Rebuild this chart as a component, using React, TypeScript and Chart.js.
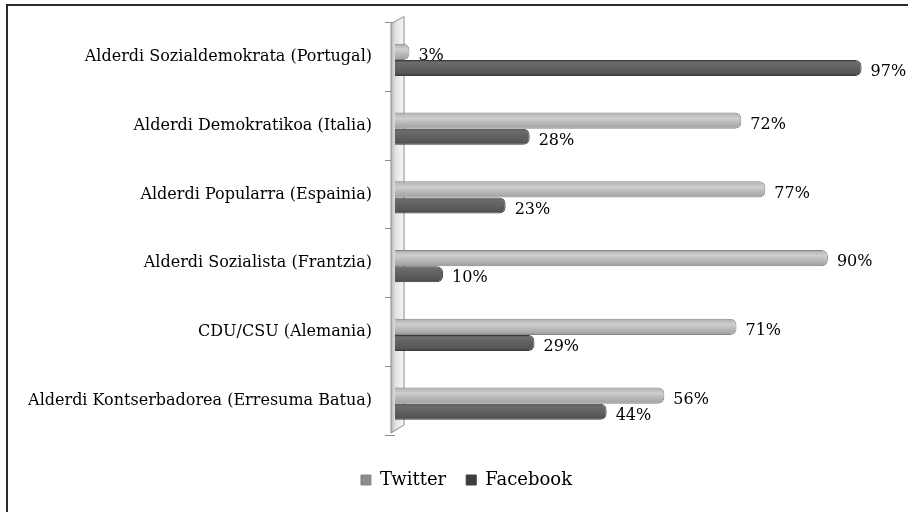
import React, { useEffect, useRef } from "react";
import { Chart, registerables } from "chart.js";

Chart.register(...registerables);

const categories = [
  "Alderdi Sozialdemokrata (Portugal)",
  "Alderdi Demokratikoa (Italia)",
  "Alderdi Popularra (Espainia)",
  "Alderdi Sozialista (Frantzia)",
  "CDU/CSU (Alemania)",
  "Alderdi Kontserbadorea (Erresuma Batua)",
];
const twitterValues = [3, 72, 77, 90, 71, 56];
const facebookValues = [97, 28, 23, 10, 29, 44];
const seriesNames = ["Twitter", "Facebook"];

const FONT = "'DejaVu Serif', serif";
const BAR_SHIFT = 3;

function barGradient(solid: string, stops: [number, string][]) {
  return (ctx: any) => {
    if (ctx.type !== "data") return solid;
    const chart = ctx.chart;
    const ys = chart.scales && chart.scales.y;
    if (!ys || ys.top === undefined || !chart.chartArea) return solid;
    const center = ys.getPixelForValue(ctx.dataIndex);
    const band = (ys.bottom - ys.top) / categories.length;
    const slot = (band * 0.47) / 2;
    const c = center + (ctx.datasetIndex === 0 ? -slot / 2 : slot / 2);
    const g = chart.ctx.createLinearGradient(0, c - slot / 2, 0, c + slot / 2);
    stops.forEach(([o, col]) => g.addColorStop(o, col));
    return g;
  };
}

const framePlugin = {
  id: "frame",
  afterLayout(chart: any) {
    if (chart.legend) {
      chart.legend.left += 57;
    }
  },
  afterDraw(chart: any) {
    const c = chart.ctx;
    c.save();
    c.strokeStyle = "#2b2b2b";
    c.lineWidth = 2;
    c.beginPath();
    c.moveTo(7, 512);
    c.lineTo(7, 5);
    c.lineTo(908, 5);
    c.stroke();
    c.restore();
  },
};

const wallPlugin = {
  id: "wall",
  beforeDatasetsDraw(chart: any) {
    const { ctx: c, chartArea } = chart;
    const xL = chartArea.left - 4;
    const xR = chartArea.left + 9;
    const top = chartArea.top;
    const bottom = chartArea.bottom;
    c.save();
    const g = c.createLinearGradient(xL, 0, xR, 0);
    g.addColorStop(0, "#b8b8b8");
    g.addColorStop(0.35, "#e2e2e2");
    g.addColorStop(1, "#f7f7f7");
    c.fillStyle = g;
    c.beginPath();
    c.moveTo(xL, top + 1);
    c.lineTo(xR, top - 6);
    c.lineTo(xR, bottom - 10);
    c.lineTo(xL, bottom - 2);
    c.closePath();
    c.fill();
    c.strokeStyle = "#8c8c8c";
    c.lineWidth = 1;
    c.stroke();
    c.restore();
    c.save();
    c.translate(0, BAR_SHIFT);
  },
  afterDatasetsDraw(chart: any) {
    chart.ctx.restore();
  },
};

const labelPlugin = {
  id: "valueLabels",
  afterDatasetsDraw(chart: any) {
    const c = chart.ctx;
    c.save();
    c.font = "16px " + FONT;
    c.fillStyle = "#000";
    c.textAlign = "left";
    c.textBaseline = "middle";
    chart.data.datasets.forEach((ds: any, di: number) => {
      const meta = chart.getDatasetMeta(di);
      meta.data.forEach((el: any, i: number) => {
        const v = ds.data[i];
        c.fillText(v + "%", el.x + 9, el.y + BAR_SHIFT + 4);
      });
    });
    c.restore();
  },
};

export default function App() {
  const ref = useRef<HTMLCanvasElement>(null);
  useEffect(() => {
    if (!ref.current) return;
    const chart = new Chart(ref.current, {
      type: "bar",
      data: {
        labels: categories,
        datasets: [
          {
            label: seriesNames[0],
            data: twitterValues,
            backgroundColor: barGradient("#b8b8b8", [
              [0, "#939393"],
              [0.12, "#b9b9b9"],
              [0.35, "#cfcfcf"],
              [0.6, "#bbbbbb"],
              [0.88, "#a8a8a8"],
              [1, "#8c8c8c"],
            ]),
            borderColor: "#888888",
            borderWidth: 1,
            borderRadius: 6,
            categoryPercentage: 0.47,
            barPercentage: 1,
          },
          {
            label: seriesNames[1],
            data: facebookValues,
            backgroundColor: barGradient("#5a5a5a", [
              [0, "#4a4a4a"],
              [0.15, "#6c6c6c"],
              [0.4, "#636363"],
              [0.8, "#575757"],
              [1, "#3e3e3e"],
            ]),
            borderColor: "#3c3c3c",
            borderWidth: 1,
            borderRadius: 6,
            categoryPercentage: 0.47,
            barPercentage: 1,
          },
        ],
      },
      options: {
        indexAxis: "y",
        responsive: false,
        animation: false,
        layout: { padding: { top: 21, left: 0, right: 32, bottom: 13 } },
        scales: {
          x: {
            min: 0,
            max: 100,
            display: true,
            grid: { display: false },
            border: { display: false },
            ticks: { display: false },
            afterFit(scale: any) {
              scale.height = 16;
            },
          },
          y: {
            grid: {
              display: true,
              drawOnChartArea: false,
              drawTicks: true,
              tickLength: 10,
              color: "#8c8c8c",
              offset: true,
            },
            border: { display: false },
            ticks: {
              color: "#000",
              padding: 13,
              font: { family: FONT, size: 16 },
            },
            afterFit(scale: any) {
              scale.width = 395;
            },
          },
        },
        plugins: {
          legend: {
            position: "bottom",
            labels: {
              boxWidth: 10,
              boxHeight: 10,
              padding: 20,
              color: "#000",
              font: { family: FONT, size: 18 },
            },
          },
          tooltip: { enabled: false },
        },
      },
      plugins: [wallPlugin, labelPlugin, framePlugin],
    } as any);
    return () => chart.destroy();
  }, []);
  return (
    <div style={{ position: "fixed", left: 0, top: 0, width: 908, height: 512, overflow: "hidden", background: "#fff" }}>
      <canvas ref={ref} width={908} height={512} />
    </div>
  );
}
